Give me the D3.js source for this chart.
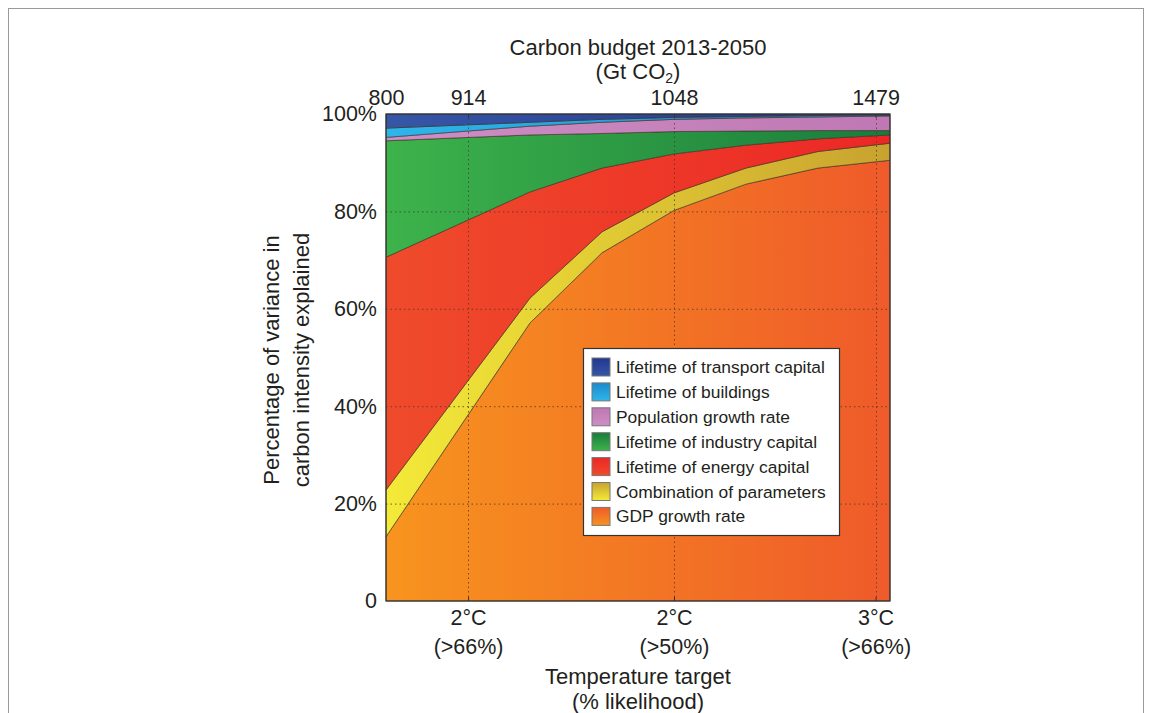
<!DOCTYPE html>
<html><head><meta charset="utf-8">
<script src="https://cdn.jsdelivr.net/npm/d3@7"></script>
<style>
html,body{margin:0;padding:0;background:#fff;}
svg text{font-family:"Liberation Sans",Arial,Helvetica,sans-serif;fill:#231f20;}
</style></head>
<body>
<svg id="chart" width="1152" height="713"></svg>
<script>
// ---- data ----
const xPositions = [0, 2, 3, 4, 5, 6, 7];               // scenario positions along the x axis
const seriesNames = ["GDP growth rate","Combination of parameters","Lifetime of energy capital",
  "Lifetime of industry capital","Population growth rate","Lifetime of buildings","Lifetime of transport capital"];
const gdpGrowth      = [13.2, 57.1, 71.5, 80.2, 85.6, 88.9, 90.5];
const combination    = [9.6, 5.1, 4.3, 3.6, 3.3, 3.4, 3.5];
const energyCapital  = [47.8, 21.8, 13.1, 8.0, 4.7, 2.6, 1.7];
const industryCap    = [23.9, 11.7, 7.1, 4.6, 2.9, 1.7, 0.9];
const populationRate = [0.7, 1.8, 2.3, 2.5, 2.7, 2.8, 3.0];
const buildings      = [1.9, 0.8, 0.6, 0.4, 0.3, 0.3, 0.2];
const transport      = [2.9, 1.7, 1.1, 0.7, 0.5, 0.3, 0.2];
const budgetTickPos  = [0, 1.14, 4, 6.8];
const budgetTicks    = ["800", "914", "1048", "1479"];
const tempTickPos    = [1.14, 4, 6.8];
const tempTicks      = [["2°C","(>66%)"], ["2°C","(>50%)"], ["3°C","(>66%)"]];
const yTicks         = [0, 20, 40, 60, 80, 100];
const legendOrder    = ["Lifetime of transport capital","Lifetime of buildings","Population growth rate",
  "Lifetime of industry capital","Lifetime of energy capital","Combination of parameters","GDP growth rate"];

// ---- styles ----
const colors = {
  "GDP growth rate": ["#f7941e", "#ef5a2a"],
  "Combination of parameters": ["#f4ea38", "#c8a22f"],
  "Lifetime of energy capital": ["#ef4b2b", "#ec2726"],
  "Lifetime of industry capital": ["#3db34b", "#1a7c3c"],
  "Population growth rate": ["#cd8ec5", "#bf78b3"],
  "Lifetime of buildings": ["#2db6ea", "#1c8acc"],
  "Lifetime of transport capital": ["#3656a6", "#23378f"]
};
const FONT = '"Liberation Sans",Arial,sans-serif';

const svg = d3.select("#chart");
const M = {left: 386, right: 890, top: 114, bottom: 601};
const x = d3.scaleLinear().domain([0, 7]).range([M.left, M.right]);
const y = d3.scaleLinear().domain([0, 100]).range([M.bottom, M.top]);

// outer frame
svg.append("rect").attr("x", 8.5).attr("y", 8.5).attr("width", 1135).attr("height", 720)
  .attr("fill", "none").attr("stroke", "#9a9a9a").attr("stroke-width", 1);

const valuesByName = {
  "GDP growth rate": gdpGrowth, "Combination of parameters": combination,
  "Lifetime of energy capital": energyCapital, "Lifetime of industry capital": industryCap,
  "Population growth rate": populationRate, "Lifetime of buildings": buildings,
  "Lifetime of transport capital": transport
};
const rows = xPositions.map((p, i) => {
  const r = {pos: p};
  seriesNames.forEach(n => r[n] = valuesByName[n][i]);
  return r;
});
const stacked = d3.stack().keys(seriesNames)(rows);

const defs = svg.append("defs");
seriesNames.forEach((n, i) => {
  const g = defs.append("linearGradient").attr("id", "h" + i)
    .attr("gradientUnits", "userSpaceOnUse")
    .attr("x1", M.left).attr("x2", M.right).attr("y1", 0).attr("y2", 0);
  g.append("stop").attr("offset", "0").attr("stop-color", colors[n][0]);
  g.append("stop").attr("offset", "1").attr("stop-color", colors[n][1]);
  const v = defs.append("linearGradient").attr("id", "v" + i)
    .attr("x1", 0).attr("x2", 0).attr("y1", 0).attr("y2", 1);
  v.append("stop").attr("offset", "0").attr("stop-color", colors[n][1]);
  v.append("stop").attr("offset", "1").attr("stop-color", colors[n][0]);
});

const area = d3.area().x(d => x(d.data.pos)).y0(d => y(d[0])).y1(d => y(d[1]));
svg.append("g").selectAll("path").data(stacked).join("path")
  .attr("d", area)
  .attr("fill", (d, i) => `url(#h${i})`)
  .attr("stroke", "#3a2a20").attr("stroke-width", 0.8).attr("stroke-opacity", 0.75)
  .attr("stroke-linejoin", "round");

// gridlines
const grid = svg.append("g").attr("stroke", "#4a3a30").attr("stroke-width", 1)
  .attr("stroke-dasharray", "1.5,3").attr("opacity", 0.8);
grid.selectAll("line.h").data(yTicks.filter(t => t > 0 && t < 100)).join("line")
  .attr("x1", M.left).attr("x2", M.right).attr("y1", d => y(d) + 0.5).attr("y2", d => y(d) + 0.5);
grid.selectAll("line.v").data(tempTickPos).join("line")
  .attr("y1", M.top).attr("y2", M.bottom).attr("x1", d => Math.round(x(d)) + 0.5).attr("x2", d => Math.round(x(d)) + 0.5);

// frame of plot
svg.append("rect").attr("x", M.left).attr("y", M.top).attr("width", M.right - M.left).attr("height", M.bottom - M.top)
  .attr("fill", "none").attr("stroke", "#333").attr("stroke-width", 1.2);

// axes
const yAxis = d3.axisLeft(y).tickValues(yTicks).tickSize(0).tickPadding(9)
  .tickFormat(d => d === 0 ? "0" : d + "%");
const gy = svg.append("g").attr("transform", `translate(${M.left},0)`).call(yAxis);
gy.select(".domain").remove();
gy.selectAll("text").attr("font-size", 21.5).attr("fill", "#231f20").style("font-family", FONT);

const xTop = d3.axisTop(x).tickValues(budgetTickPos).tickSize(4).tickPadding(5)
  .tickFormat((d, i) => budgetTicks[i]);
const gt = svg.append("g").attr("transform", `translate(0,${M.top})`).call(xTop);
gt.select(".domain").remove();
gt.selectAll("line").attr("stroke", "#333").attr("transform", "translate(0,4)");
gt.selectAll("text").attr("font-size", 21.5).attr("fill", "#231f20").style("font-family", FONT);

const xBot = d3.axisBottom(x).tickValues(tempTickPos).tickSize(4).tickPadding(10).tickFormat("");
const gb = svg.append("g").attr("transform", `translate(0,${M.bottom})`).call(xBot);
gb.select(".domain").remove();
gb.selectAll("line").attr("stroke", "#333").attr("transform", "translate(0,-4)");
gb.selectAll(".tick").each(function(d, i) {
  const t = d3.select(this).append("text").attr("fill", "#231f20").attr("font-size", 21.5)
    .attr("text-anchor", "middle").style("font-family", FONT);
  t.append("tspan").attr("x", 0).attr("y", 24).text(tempTicks[i][0]);
  t.append("tspan").attr("x", 0).attr("y", 53).text(tempTicks[i][1]);
});

// titles
svg.append("text").attr("x", 638).attr("y", 55).attr("text-anchor", "middle").attr("font-size", 22)
  .text("Carbon budget 2013-2050");
const t2 = svg.append("text").attr("x", 638).attr("y", 79).attr("text-anchor", "middle").attr("font-size", 22);
t2.append("tspan").text("(Gt CO");
t2.append("tspan").attr("font-size", 14).attr("dy", 4).text("2");
t2.append("tspan").attr("dy", -4).text(")");

svg.append("text").attr("x", 638).attr("y", 684).attr("text-anchor", "middle").attr("font-size", 22)
  .text("Temperature target");
svg.append("text").attr("x", 638).attr("y", 709).attr("text-anchor", "middle").attr("font-size", 22)
  .text("(% likelihood)");

svg.append("text").attr("transform", "translate(279,360) rotate(-90)").attr("text-anchor", "middle")
  .attr("font-size", 22).text("Percentage of variance in");
svg.append("text").attr("transform", "translate(309,360) rotate(-90)").attr("text-anchor", "middle")
  .attr("font-size", 22).text("carbon intensity explained");

// legend
const lg = svg.append("g").attr("transform", "translate(583,348)");
lg.append("rect").attr("x", 0.5).attr("y", 0.5).attr("width", 256).attr("height", 187)
  .attr("fill", "#fff").attr("stroke", "#333").attr("stroke-width", 1.2);
const items = lg.selectAll("g.item").data(legendOrder).join("g")
  .attr("transform", (d, i) => `translate(9,${10 + i * 24.9})`);
items.append("rect").attr("width", 18).attr("height", 18)
  .attr("fill", d => `url(#v${seriesNames.indexOf(d)})`).attr("stroke", "#777").attr("stroke-width", 1);
items.append("text").attr("x", 24).attr("y", 15).attr("font-size", 17.4).text(d => d);
</script>
</body></html>
